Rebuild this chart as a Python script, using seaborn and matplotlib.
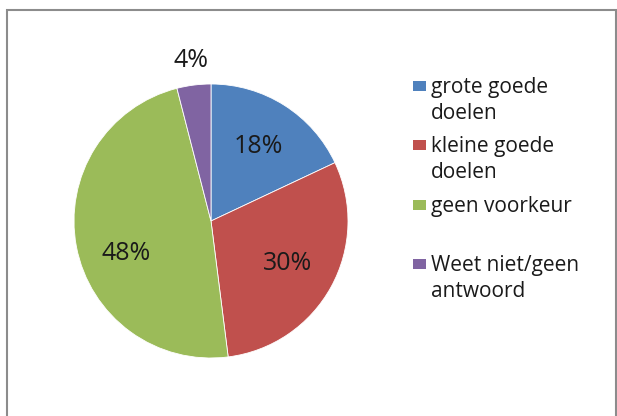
import matplotlib
matplotlib.use("Agg")
import matplotlib.pyplot as plt
import matplotlib.patches as mpatches
import seaborn as sns
import numpy as np

categories = ["grote goede\ndoelen", "kleine goede\ndoelen", "geen voorkeur", "Weet niet/geen\nantwoord"]
values = [18, 30, 48, 4]
colors = ["#4F81BD", "#C0504D", "#9BBB59", "#8064A2"]

sns.set_theme(style="white")
plt.rcParams["font.family"] = ["Open Sans", "DejaVu Sans"]

W, H = 617, 416
fig = plt.figure(figsize=(W / 100, H / 100), dpi=100)
fig.patch.set_facecolor("white")

cx, cy, r = 211, 221, 137
ax = fig.add_axes([(cx - r) / W, (H - cy - r) / H, 2 * r / W, 2 * r / H])
wedges, texts, autotexts = ax.pie(
    values, colors=colors, startangle=90, counterclock=False,
    autopct=lambda p: f"{p:.0f}%", pctdistance=0.64,
    wedgeprops=dict(edgecolor="white", linewidth=0.6),
    textprops=dict(fontsize=18, color="#1a1a1a"))
ax.set_xlim(-1, 1)
ax.set_ylim(-1, 1)
ax.set_aspect("equal")
ax.axis("off")

# label placement like the original (best fit)
w = wedges[-1]
ang = np.deg2rad((w.theta1 + w.theta2) / 2)
autotexts[-1].set_position((1.18 * np.cos(ang), 1.18 * np.sin(ang)))
w = wedges[2]
ang = np.deg2rad((w.theta1 + w.theta2) / 2) + np.deg2rad(10)
autotexts[2].set_position((0.66 * np.cos(ang), 0.66 * np.sin(ang)))

# legend (patch aligned with first line, as in the original)
step = 59.3
for i, (lab, c) in enumerate(zip(categories, colors)):
    top = 77 + i * step
    fig.text(431 / W, 1 - top / H, lab, ha="left", va="top", fontsize=15,
             color="#1a1a1a", linespacing=1.32)
    fig.patches.append(mpatches.Rectangle(
        (413 / W, 1 - (top + 14) / H), 13 / W, 10 / H,
        transform=fig.transFigure, facecolor=c, edgecolor="none"))

# outer border
border = mpatches.Rectangle((7 / W, -0.05), (616 - 7) / W, (H - 10) / H + 0.05,
                            transform=fig.transFigure, fill=False,
                            edgecolor="#8c8c8c", linewidth=1.5)
fig.patches.append(border)

fig.savefig("out.png", dpi=100, facecolor="white")
